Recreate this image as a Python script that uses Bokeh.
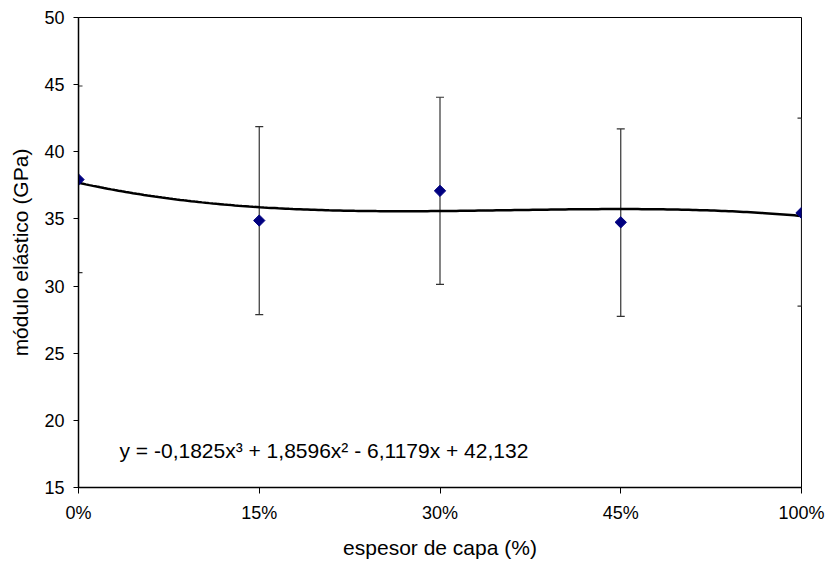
import numpy as np
from bokeh.plotting import figure
from bokeh.models import ColumnDataSource, Whisker, TeeHead, Label, FixedTicker, Range1d
from bokeh.embed import file_html
from bokeh.resources import INLINE

# ---- data ----
categories = ["0%", "15%", "30%", "45%", "100%"]
positions = [1, 2, 3, 4, 5]
modulus = [37.93, 34.88, 37.09, 34.75, 35.45]
err_lower = [31.0, 27.88, 30.12, 27.75, 28.5]
err_upper = [44.9, 41.88, 44.06, 41.7, 42.5]
trend_coeffs = [-0.1825, 1.8596, -6.1179, 42.132]
equation_text = "y = -0,1825x\u00b3 + 1,8596x\u00b2 - 6,1179x + 42,132"
y_ticks = [15, 20, 25, 30, 35, 40, 45, 50]

FONT = "Liberation Sans"
TICK_FS = "18px"
TITLE_FS = "21px"

p = figure(width=830, height=561, output_backend="svg", toolbar_location=None,
           x_range=Range1d(1, 5), y_range=Range1d(15, 50),
           min_border_left=78, min_border_right=29, min_border_top=17, min_border_bottom=74)
p.background_fill_color = "white"
p.border_fill_color = "white"
p.outline_line_color = "#000000"
p.outline_line_width = 1
p.xgrid.visible = False
p.ygrid.visible = False

src = ColumnDataSource(dict(x=positions, y=modulus, lo=err_lower, hi=err_upper))

# trendline (from the printed polynomial)
xs = np.linspace(positions[0], positions[-1], 200)
ys = np.polyval(trend_coeffs, xs)

w = Whisker(source=src, base="x", lower="lo", upper="hi", line_color="#333333", line_width=1.2,
            upper_head=TeeHead(size=8, line_color="#333333", line_width=1.2),
            lower_head=TeeHead(size=8, line_color="#333333", line_width=1.2))
p.add_layout(w)

p.line(xs, ys, line_color="black", line_width=2.5)
p.scatter("x", "y", source=src, marker="square", angle=np.pi / 4, size=8,
          fill_color="#000080", line_color="#000080")

# axes
p.xaxis.ticker = FixedTicker(ticks=positions)
p.xaxis.major_label_overrides = {pos: lab for pos, lab in zip(positions, categories)}
p.yaxis.ticker = FixedTicker(ticks=y_ticks)
for ax in (p.xaxis[0], p.yaxis[0]):
    ax.axis_line_color = "black"
    ax.axis_line_width = 1.5
    ax.major_tick_line_color = "black"
    ax.major_tick_in = 0
    ax.minor_tick_line_color = None
    ax.major_label_text_font = FONT
    ax.major_label_text_font_size = TICK_FS
    ax.major_label_text_color = "black"
    ax.axis_label_text_font = FONT
    ax.axis_label_text_font_size = TITLE_FS
    ax.axis_label_text_font_style = "normal"
    ax.axis_label_text_color = "black"
p.xaxis.major_tick_out = 6
p.yaxis.major_tick_out = 5
p.xaxis.major_label_standoff = 9
p.yaxis.major_label_standoff = 9
p.xaxis.axis_label = "espesor de capa (%)"
p.yaxis.axis_label = "módulo elástico (GPa)"
p.xaxis.axis_label_standoff = 10
p.yaxis.axis_label_standoff = 9

p.add_layout(Label(x=1.227, y=17.75, text=equation_text, text_font=FONT, text_font_size=TITLE_FS,
                   text_baseline="middle", text_align="left", text_color="black"))

open("out.html", "w").write(file_html(p, INLINE))
